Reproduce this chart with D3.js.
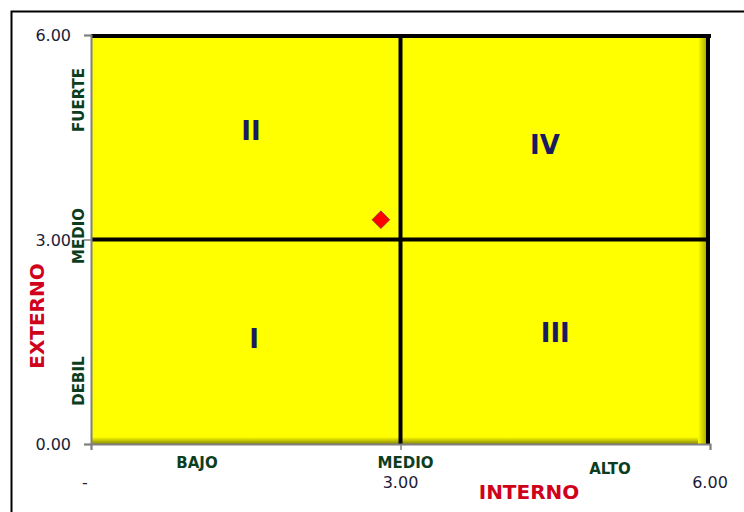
<!DOCTYPE html>
<html>
<head>
<meta charset="utf-8">
<script src="https://cdn.jsdelivr.net/npm/d3@7"></script>
<style>
  body { margin: 0; background: #fff; }
  svg { display: block; }
</style>
</head>
<body>
<div id="chart"></div>
<script>
var width = 744;
var height = 512;

// data
var xTicks = [0, 3, 6];
var yTicks = [0, 3, 6];
var xTickLabels = ["-", "3.00", "6.00"];
var yTickLabels = ["0.00", "3.00", "6.00"];
var xCategories = [{name: "BAJO", v: 1}, {name: "MEDIO", v: 3}, {name: "ALTO", v: 5}];
var yCategories = [{name: "DEBIL", v: 1}, {name: "MEDIO", v: 3}, {name: "FUERTE", v: 5}];
var quadrants = [
  {name: "II", x: 1.55, y: 4.6},
  {name: "IV", x: 4.4, y: 4.4},
  {name: "I", x: 1.58, y: 1.55},
  {name: "III", x: 4.5, y: 1.65}
];
var points = [{x: 2.81, y: 3.29}];

var margin = {left: 91, top: 35, right: 34, bottom: 68};

var svg = d3.select("#chart")
  .append("svg")
  .attr("width", width)
  .attr("height", height);

var xScale = d3.scaleLinear().domain([0, 6]).range([margin.left, width - margin.right]);
var yScale = d3.scaleLinear().domain([0, 6]).range([height - margin.bottom, margin.top]);

// outer frame (cut off at right and bottom)
svg.append("rect")
  .attr("x", 11.5).attr("y", 11.5)
  .attr("width", width).attr("height", height)
  .attr("fill", "none")
  .attr("stroke", "#000")
  .attr("stroke-width", 2);

var defs = svg.append("defs");
var gb = defs.append("linearGradient").attr("id", "bevB").attr("x1", 0).attr("y1", 0).attr("x2", 0).attr("y2", 1);
gb.append("stop").attr("offset", "0%").attr("stop-color", "#ffff00");
gb.append("stop").attr("offset", "100%").attr("stop-color", "#8a8a00");
var gr = defs.append("linearGradient").attr("id", "bevR").attr("x1", 0).attr("y1", 0).attr("x2", 1).attr("y2", 0);
gr.append("stop").attr("offset", "0%").attr("stop-color", "#ffff00");
gr.append("stop").attr("offset", "100%").attr("stop-color", "#8a8a00");

var x0 = xScale(0), x1 = xScale(6), y0 = yScale(0), y1 = yScale(6);

// plot area
svg.append("rect")
  .attr("x", x0).attr("y", y1)
  .attr("width", x1 - x0).attr("height", y0 - y1)
  .attr("fill", "#ffff00");

// bevel
svg.append("rect")
  .attr("x", x0).attr("y", y0 - 7)
  .attr("width", x1 - x0 - 6).attr("height", 7)
  .attr("fill", "url(#bevB)");
svg.append("rect")
  .attr("x", x1 - 12).attr("y", y1)
  .attr("width", 12).attr("height", y0 - y1)
  .attr("fill", "url(#bevR)");

// black border top / right
svg.append("line")
  .attr("x1", x0).attr("x2", x1 + 1)
  .attr("y1", y1 + 1).attr("y2", y1 + 1)
  .attr("stroke", "#000").attr("stroke-width", 4);
svg.append("line")
  .attr("x1", x1 - 2).attr("x2", x1 - 2)
  .attr("y1", y1).attr("y2", y0)
  .attr("stroke", "#000").attr("stroke-width", 4);

// mid lines
svg.append("line")
  .attr("x1", xScale(3)).attr("x2", xScale(3))
  .attr("y1", y1).attr("y2", y0)
  .attr("stroke", "#000").attr("stroke-width", 4);
svg.append("line")
  .attr("x1", x0).attr("x2", x1)
  .attr("y1", yScale(3)).attr("y2", yScale(3))
  .attr("stroke", "#000").attr("stroke-width", 4);

// axes
var xAxis = d3.axisBottom(xScale).tickValues(xTicks).tickSize(6).tickFormat("");
var yAxis = d3.axisLeft(yScale).tickValues(yTicks).tickSize(7).tickFormat("");

var gx = svg.append("g").attr("transform", "translate(0," + y0 + ")").call(xAxis);
var gy = svg.append("g").attr("transform", "translate(" + x0 + ",0)").call(yAxis);
[gx, gy].forEach(function(g) {
  g.select(".domain").attr("stroke", "#808080").attr("stroke-width", 2);
  g.selectAll(".tick line").attr("stroke", "#808080").attr("stroke-width", 1.5);
});

// tick labels
svg.selectAll(".ylab")
  .data(yTicks)
  .enter()
  .append("text")
  .attr("x", 71)
  .attr("y", function(d) { return yScale(d) + 6; })
  .attr("text-anchor", "end")
  .attr("font-family", "DejaVu Sans, sans-serif")
  .attr("font-size", 16)
  .attr("fill", "#1c1c38")
  .text(function(d, i) { return yTickLabels[i]; });

svg.selectAll(".xlab")
  .data(xTicks)
  .enter()
  .append("text")
  .attr("x", function(d) { return xScale(d) + (d == 0 ? -6 : 0); })
  .attr("y", 488)
  .attr("text-anchor", "middle")
  .attr("font-family", "DejaVu Sans, sans-serif")
  .attr("font-size", 16)
  .attr("fill", "#1c1c38")
  .text(function(d, i) { return xTickLabels[i]; });

// category labels
svg.selectAll(".xcat")
  .data(xCategories)
  .enter()
  .append("text")
  .attr("x", function(d) { return d.name == "BAJO" ? 197 : (d.name == "ALTO" ? 610 : xScale(d.v) + 5); })
  .attr("y", function(d) { return d.name == "ALTO" ? 474 : 468; })
  .attr("text-anchor", "middle")
  .attr("font-family", "DejaVu Sans, sans-serif")
  .attr("font-weight", "bold")
  .attr("font-size", 15)
  .attr("fill", "#0b3d1e")
  .text(function(d) { return d.name; });

svg.selectAll(".ycat")
  .data(yCategories)
  .enter()
  .append("text")
  .attr("transform", function(d) {
    var cy = d.name == "FUERTE" ? 100 : (d.name == "MEDIO" ? 236 : 381);
    return "translate(84," + cy + ") rotate(-90)";
  })
  .attr("text-anchor", "middle")
  .attr("font-family", "DejaVu Sans, sans-serif")
  .attr("font-weight", "bold")
  .attr("font-size", 15)
  .attr("fill", "#0b3d1e")
  .text(function(d) { return d.name; });

// axis titles
svg.append("text")
  .attr("transform", "translate(44,316) rotate(-90)")
  .attr("text-anchor", "middle")
  .attr("font-family", "DejaVu Sans, sans-serif")
  .attr("font-weight", "bold")
  .attr("font-size", 20)
  .attr("fill", "#d0021b")
  .text("EXTERNO");

svg.append("text")
  .attr("x", 529)
  .attr("y", 499)
  .attr("text-anchor", "middle")
  .attr("font-family", "DejaVu Sans, sans-serif")
  .attr("font-weight", "bold")
  .attr("font-size", 20)
  .attr("fill", "#d0021b")
  .text("INTERNO");

// quadrant labels
svg.selectAll(".quad")
  .data(quadrants)
  .enter()
  .append("text")
  .attr("x", function(d) { return xScale(d.x); })
  .attr("y", function(d) { return yScale(d.y) + 10; })
  .attr("text-anchor", "middle")
  .attr("font-family", "DejaVu Sans, sans-serif")
  .attr("font-weight", "bold")
  .attr("font-size", 26)
  .attr("fill", "#1a1a60")
  .text(function(d) { return d.name; });

// point
svg.selectAll(".pt")
  .data(points)
  .enter()
  .append("path")
  .attr("d", d3.symbol().type(d3.symbolDiamond2).size(200))
  .attr("transform", function(d) { return "translate(" + xScale(d.x) + "," + yScale(d.y) + ")"; })
  .attr("fill", "#ff0000")
  .attr("stroke", "#7a3a5a")
  .attr("stroke-width", 0.8);
</script>
</body>
</html>
